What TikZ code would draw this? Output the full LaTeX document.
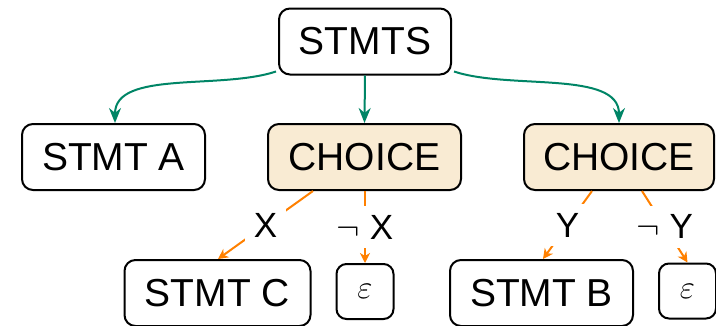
\documentclass[tikz,border=0pt]{standalone}
\usepackage{fix-cm}
\usepackage{fontspec}
\setmainfont{Liberation Sans}
\usetikzlibrary{arrows.meta}
\definecolor{edgegreen}{RGB}{0,133,102}
\definecolor{edgeorange}{RGB}{255,128,0}
\definecolor{choicefill}{RGB}{249,235,211}
\tikzset{
  box/.style={draw=black, line width=2pt, rounded corners=11pt, minimum height=66pt,
    inner sep=0pt, font=\fontsize{39}{46}\selectfont},
  choicebox/.style={box, fill=choicefill},
  epsbox/.style={draw=black, line width=2pt, rounded corners=10pt, minimum width=57pt,
    minimum height=55pt, inner sep=0pt},
  garrow/.style={draw=edgegreen, line width=2pt, -{Stealth[length=15pt,width=12pt]}},
  oarrow/.style={draw=edgeorange, line width=2pt, -{Stealth[length=10pt,width=10pt,inset=3pt]}},
  elabel/.style={fill=white, inner sep=9pt, font=\fontsize{35}{42}\selectfont}
}
\begin{document}
\begin{tikzpicture}[x=1pt,y=1pt]
\useasboundingbox (0,0) rectangle (716,-325);
\node[box, minimum width=172pt] (stmts) at (365,-41.5) {STMTS};
\node[box, minimum width=183pt] (stmta) at (113.5,-157) {STMT A};
\node[choicebox, minimum width=193pt] (choice1) at (364.5,-157) {CHOICE};
\node[choicebox, minimum width=190pt] (choice2) at (619,-157) {CHOICE};
\node[box, minimum width=186pt] (stmtc) at (217.5,-293) {STMT C};
\node[epsbox] (eps1) at (365,-291.5) {\fontsize{33}{39}\selectfont$\varepsilon$};
\node[box, minimum width=183pt] (stmtb) at (541.5,-293) {STMT B};
\node[epsbox] (eps2) at (687.5,-291) {\fontsize{33}{39}\selectfont$\varepsilon$};
% green edges
\draw[garrow] ([xshift=-2pt,yshift=4pt]stmts.south west) .. controls (220,-90) and (115,-70) .. ([xshift=1.5pt]stmta.north);
\draw[garrow] (stmts.south) -- (choice1.north);
\draw[garrow] ([xshift=2pt,yshift=4pt]stmts.south east) .. controls (510,-90) and (619,-70) .. (choice2.north);
% orange edges
\draw[oarrow] ([xshift=-51.5pt]choice1.south) -- node[elabel] {X} ([xshift=0.5pt]stmtc.north);
\draw[oarrow] ([xshift=0.5pt]choice1.south) -- node[elabel] {$\neg$ X} (eps1.north);
\draw[oarrow] ([xshift=-27pt]choice2.south) -- node[elabel] {Y} ([xshift=1.5pt]stmtb.north);
\draw[oarrow] ([xshift=23pt]choice2.south) -- node[elabel] {$\neg$ Y} (eps2.north);
\end{tikzpicture}
\end{document}
